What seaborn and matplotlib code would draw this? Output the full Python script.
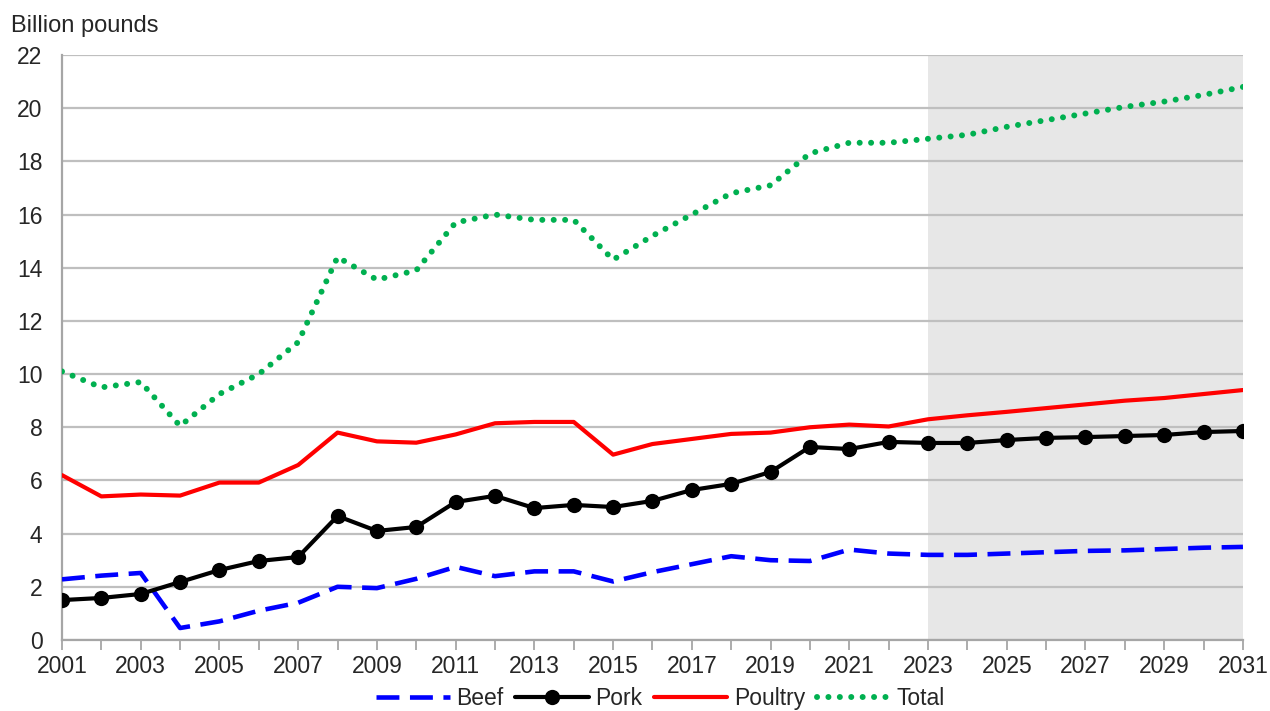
import matplotlib.pyplot as plt
import matplotlib.ticker as mticker
import pandas as pd
import seaborn as sns

sns.set_theme(style='white')
plt.rcParams['font.family'] = ['Liberation Sans', 'DejaVu Sans']

years = list(range(2001, 2032))
beef = [2.28, 2.42, 2.52, 0.45, 0.7, 1.1, 1.4, 2.0, 1.95, 2.3, 2.75, 2.4, 2.58, 2.58, 2.2, 2.55,
        2.85, 3.15, 3.0, 2.97, 3.4, 3.25, 3.2, 3.2, 3.25, 3.3, 3.35, 3.37, 3.42, 3.47, 3.5]
pork = [1.5, 1.58, 1.73, 2.18, 2.63, 2.97, 3.12, 4.66, 4.1, 4.25, 5.19, 5.42, 4.96, 5.08, 5.0, 5.23,
        5.64, 5.87, 6.32, 7.26, 7.18, 7.45, 7.41, 7.41, 7.52, 7.6, 7.63, 7.67, 7.71, 7.82, 7.86]
poultry = [6.2, 5.4, 5.47, 5.43, 5.92, 5.92, 6.58, 7.8, 7.47, 7.42, 7.73, 8.15, 8.2, 8.2, 6.97, 7.37,
           7.56, 7.75, 7.8, 8.0, 8.1, 8.03, 8.3, 8.45, 8.58, 8.72, 8.86, 9.0, 9.1, 9.25, 9.4]
total = [10.1, 9.5, 9.7, 8.05, 9.25, 10.0, 11.2, 14.4, 13.55, 13.9, 15.7, 16.0, 15.8, 15.8, 14.3, 15.2,
         16.0, 16.8, 17.1, 18.3, 18.7, 18.7, 18.85, 19.0, 19.3, 19.55, 19.8, 20.05, 20.25, 20.5, 20.8]
projection_start = 2023

df = pd.DataFrame({'Year': years, 'Beef': beef, 'Pork': pork, 'Poultry': poultry, 'Total': total})

fig = plt.figure(figsize=(12.7, 7.11), dpi=100)
ax = fig.add_axes([0.0488, 0.0999, 0.9299, 0.8227])

# shaded projection period
ax.axvspan(projection_start, years[-1], color='#e7e7e7', zorder=0, lw=0)

sns.lineplot(data=df, x='Year', y='Beef', ax=ax, color='#0000ff', lw=3.3,
             linestyle=(0, (5, 2.3)), label='Beef', zorder=3)
sns.lineplot(data=df, x='Year', y='Pork', ax=ax, color='black', lw=3, marker='o',
             markersize=11, markeredgewidth=0, label='Pork', zorder=4)
sns.lineplot(data=df, x='Year', y='Poultry', ax=ax, color='#ff0000', lw=3, label='Poultry', zorder=3)
sns.lineplot(data=df, x='Year', y='Total', ax=ax, color='#00b050', lw=4.3,
             linestyle=(0, (0.01, 1.9)), dash_capstyle='round', label='Total', zorder=3)

ax.set_xlim(years[0], years[-1])
ax.set_ylim(0, 22)
ax.set_yticks(range(0, 23, 2))
ax.set_xticks(years[::2])
ax.xaxis.set_minor_locator(mticker.MultipleLocator(1))
ax.yaxis.grid(True, color='#bfbfbf', lw=1.6, zorder=1)
ax.set_axisbelow(True)
ax.set_xlabel('')
ax.set_ylabel('')

for side in ['top', 'right']:
    ax.spines[side].set_visible(False)
for side in ['left', 'bottom']:
    ax.spines[side].set_color('#a6a6a6')
    ax.spines[side].set_linewidth(1.6)

ax.tick_params(axis='x', which='both', direction='out', length=7, width=1.3, color='#a6a6a6',
               bottom=True, labelsize=16.5, pad=4)
ax.tick_params(axis='y', length=0, labelsize=16.5, pad=14)

fig.text(0.009, 1 - 26 / 711, 'Billion pounds', fontsize=17, va='center', ha='left')

ax.legend(loc='upper center', bbox_to_anchor=(0.507, -0.064), ncol=4, frameon=False, fontsize=16.5,
          handlelength=3.2, handletextpad=0.3, columnspacing=0.5, borderaxespad=0)

fig.savefig('out.png', dpi=100)
